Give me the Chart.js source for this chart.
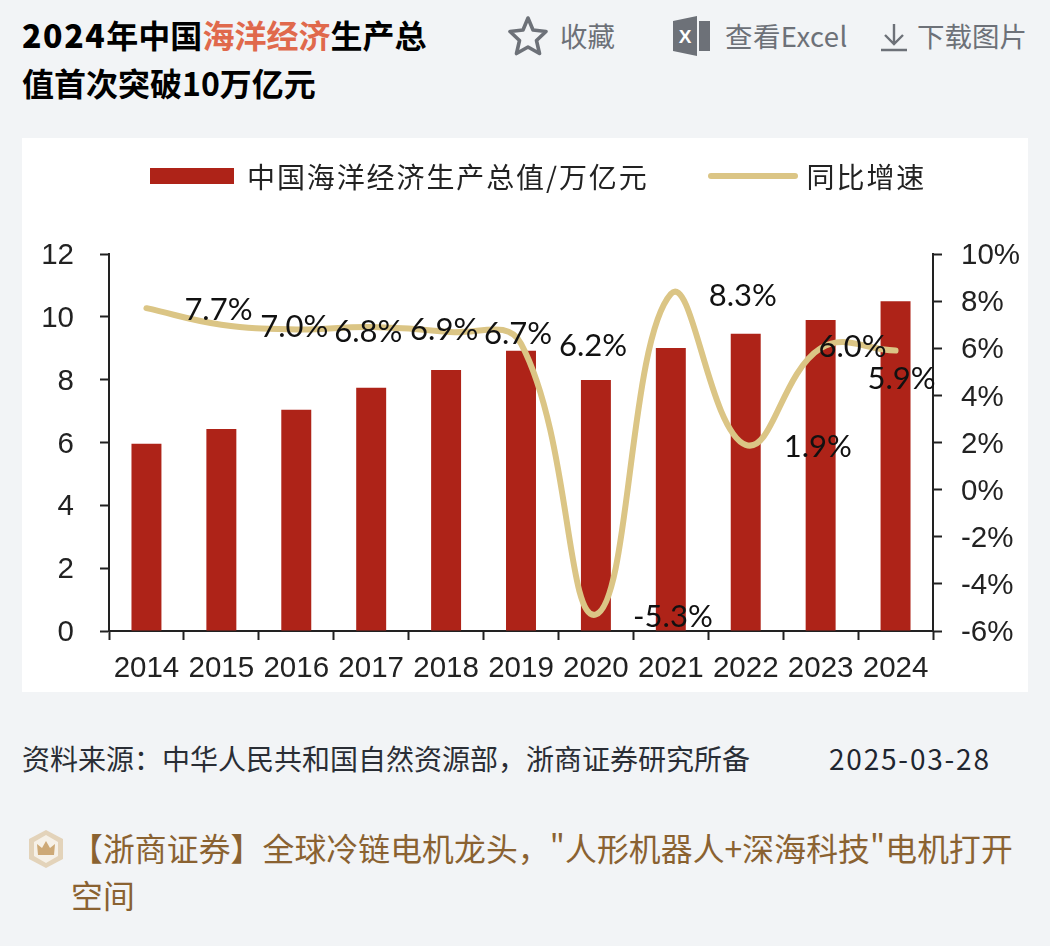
<!DOCTYPE html>
<html lang="zh">
<head>
<meta charset="utf-8">
<title>2024年中国海洋经济生产总值首次突破10万亿元</title>
<script src="https://cdn.jsdelivr.net/npm/chart.js@4"></script>
<style>
  html, body { margin: 0; padding: 0; width: 1050px; height: 946px; overflow: hidden; background: #f2f4f6; }
  body { position: relative; font-family: "Noto Sans CJK SC", sans-serif; }
  .abs { position: absolute; white-space: nowrap; }
  #title { left: 22px; top: 10px; font-size: 32px; line-height: 48px; font-weight: 700; color: #000; }
  #title span { color: #e0694c; }
  #title b { letter-spacing: 1.6px; }
  .tool { font-size: 27.5px; line-height: 40px; color: #6d7178; top: 15px; }
  #card { left: 22px; top: 138px; width: 1006px; height: 554px; background: #fff; }
  #card canvas { position: absolute; left: 0; top: 0; }
  #legend { left: 128px; top: 14px; height: 48px; display: flex; align-items: center; font-size: 28px; letter-spacing: 1.9px; color: #222; font-weight: 400; }
  #legend i { display: block; margin-right: 13px; }
  #legend span { display: block; }
  #source { left: 22px; top: 738px; font-size: 28px; line-height: 40px; color: #2a2e35; }
  #date { left: 829px; top: 738px; font-size: 28px; line-height: 40px; letter-spacing: 1.8px; color: #1f2630; }
  #link { left: 71px; top: 824px; font-size: 31.8px; letter-spacing: 0.12px; line-height: 47px; color: #8a6231; }
</style>
</head>
<body>
<div class="abs" id="title"><b>2024</b>年中国<span>海洋经济</span>生产总<br>值首次突破10万亿元</div>

<svg class="abs" style="left:507px;top:15px" width="42" height="42" viewBox="0 0 42 42">
  <path d="M21 3 L26 15 L39 16.5 L29.5 25.5 L32.5 38.5 L21 32 L9.500 38.5 L12.500 25.500 L3 16.500 L16 15 Z" fill="none" stroke="#6d7178" stroke-width="3.600" stroke-linejoin="round"/>
</svg>
<div class="abs tool" style="left:560px">收藏</div>

<svg class="abs" style="left:673px;top:16px" width="38" height="40" viewBox="0 0 38 40">
  <path d="M0 5 L24 0 L24 40 L0 35 Z" fill="#6d7178"/>
  <path d="M26 5 H37 V35 H26 Z" fill="#6d7178"/>
  <text x="12" y="27" font-size="19" font-weight="700" fill="#fff" text-anchor="middle" font-family="Liberation Sans">X</text>
</svg>
<div class="abs tool" style="left:725px;letter-spacing:0.4px">查看Excel</div>

<svg class="abs" style="left:880px;top:22px" width="28" height="30" viewBox="0 0 28 30">
  <path d="M14 2 V21 M5 13 L14 22 L23 13 M1 28 H27" fill="none" stroke="#6d7178" stroke-width="2.400"/>
</svg>
<div class="abs tool" style="left:917px">下载图片</div>

<div class="abs" id="card">
  <canvas id="chart" width="1006" height="554"></canvas>
  <div class="abs" id="legend"></div>
</div>

<div class="abs" id="source">资料来源：中华人民共和国自然资源部，浙商证券研究所备</div>
<div class="abs" id="date">2025-03-28</div>

<svg class="abs" style="left:27px;top:829px" width="38" height="40" viewBox="0 0 38 40">
  <path d="M19 1 L36 10 V30 L19 39 L2 30 V10 Z" fill="#e3d3ba"/>
  <path d="M19 6 L31 13 V27 L19 34 L7 27 V13 Z" fill="#f6f1e8"/>
  <path d="M11 26 L10 15 L15 19 L19 12 L23 19 L28 15 L27 26 Z" fill="#cda977"/>
</svg>
<div class="abs" id="link">【浙商证券】全球冷链电机龙头，"人形机器人+深海科技"电机打开<br>空间</div>

<script>
const years = ['2014','2015','2016','2017','2018','2019','2020','2021','2022','2023','2024'];
const gdpValues = [5.96,6.43,7.04,7.74,8.31,8.92,7.99,9.01,9.46,9.90,10.50];
const growthValues = [7.7,7.0,6.8,6.9,6.7,6.2,-5.3,8.3,1.9,6.0,5.9];
const gdpName = '中国海洋经济生产总值/万亿元';
const growthName = '同比增速';

const RED = '#ae2318';
const GOLD = '#dbc585';
const AXIS = '#222';
const TICK_FONT = { family: '"Liberation Sans", Arial, sans-serif', size: 29.5 };

// the source chart has its labels pushed off the points by hand
const labelOffsets = [[72,2],[73,2],[72,3],[73,3],[72,2],[72,2],[77,2],[72,2],[72,2],[32,-1],[6,28]];

const growthLabels = {
    id: 'growthLabels',
    afterDatasetsDraw(chart) {
        const ctx = chart.ctx;
        const pts = chart.getDatasetMeta(0).data;
        ctx.save();
        ctx.font = '31px Lato, "Liberation Sans", sans-serif';
        ctx.fillStyle = '#111';
        ctx.textAlign = 'center';
        ctx.textBaseline = 'middle';
        pts.forEach((p, i) => {
            const [dx, dy] = labelOffsets[i];
            ctx.fillText(growthValues[i].toFixed(1) + '%', p.x + dx, p.y + dy);
        });
        ctx.restore();
    }
};

function buildLegend(chart) {
    const box = document.getElementById('legend');
    box.innerHTML = '';
    chart.data.datasets.slice().reverse().forEach(ds => {
        const swatch = document.createElement('i');
        const isLine = ds.type === 'line';
        swatch.style.width = (isLine ? 90 : 84) + 'px';
        swatch.style.height = (isLine ? 6 : 16) + 'px';
        swatch.style.background = isLine ? ds.borderColor : ds.backgroundColor;
        swatch.style.borderRadius = isLine ? '3px' : '0';
        if (isLine) { swatch.style.marginLeft = '59px'; swatch.style.marginRight = '9px'; }
        const text = document.createElement('span');
        text.textContent = ds.label;
        box.appendChild(swatch);
        box.appendChild(text);
    });
}

const chart = new Chart(document.getElementById('chart').getContext('2d'), {
    data: {
        labels: years,
        datasets: [
            { type: 'line', label: growthName, data: growthValues, yAxisID: 'y2', order: 0,
              borderColor: GOLD, borderWidth: 6, borderCapStyle: 'round', pointRadius: 0, tension: 0.42 },
            { type: 'bar', label: gdpName, data: gdpValues, yAxisID: 'y', order: 1,
              backgroundColor: RED, barPercentage: 1, categoryPercentage: 0.4 }
        ]
    },
    options: {
        responsive: false,
        animation: false,
        layout: { autoPadding: false, padding: { top: 116 } },
        plugins: { legend: { display: false }, tooltip: { enabled: false } },
        scales: {
            x: {
                grid: { drawOnChartArea: false, tickLength: 9, tickColor: AXIS, tickWidth: 2, offset: true },
                border: { color: AXIS, width: 2 },
                ticks: { font: TICK_FONT, color: '#222', padding: 11, maxRotation: 0, autoSkip: false },
                afterFit(s) { s.height = 61; }
            },
            y: {
                position: 'left', min: 0, max: 12,
                grid: { drawOnChartArea: false, tickLength: 9, tickColor: AXIS, tickWidth: 2 },
                border: { color: AXIS, width: 2 },
                ticks: { stepSize: 2, font: TICK_FONT, color: '#222', padding: 26, labelOffset: 2 },
                afterFit(s) { s.width = 87; }
            },
            y2: {
                position: 'right', min: -6, max: 10,
                grid: { drawOnChartArea: false, tickLength: 9, tickColor: AXIS, tickWidth: 2 },
                border: { color: AXIS, width: 2 },
                ticks: { stepSize: 2, font: TICK_FONT, color: '#222', padding: 19, labelOffset: 2, callback: v => v + '%' },
                afterFit(s) { s.width = 95; }
            }
        }
    },
    plugins: [growthLabels]
});
buildLegend(chart);
</script>
</body>
</html>
